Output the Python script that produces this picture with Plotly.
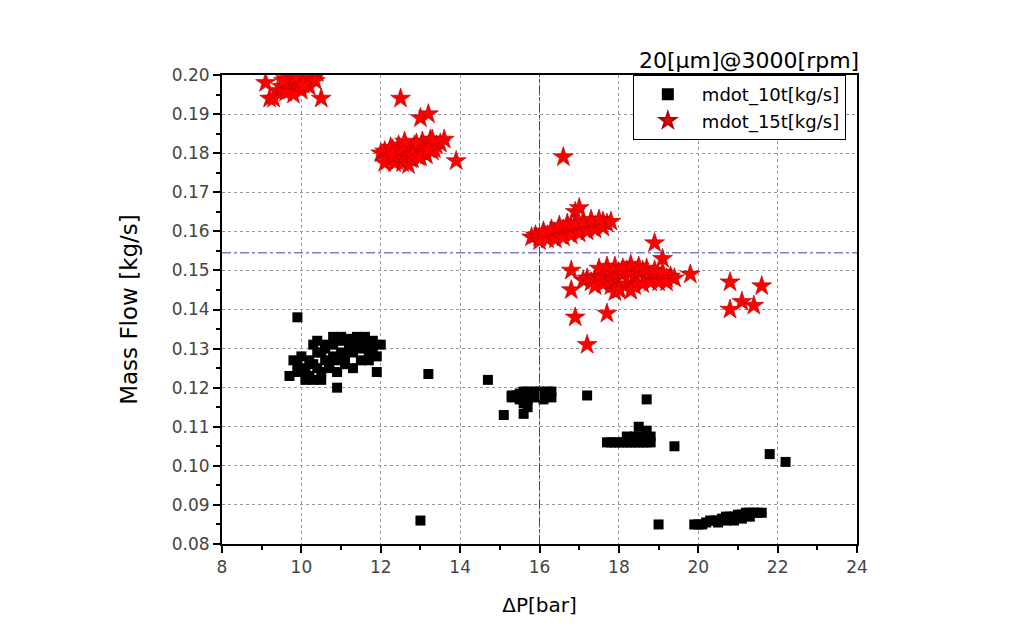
import plotly.graph_objects as go

# mdot_10t clusters (dP [bar], mass flow [kg/s])
e_x = [9.8, 9.9, 10.0, 10.1, 10.2, 10.3, 10.4, 10.5, 10.6, 10.7, 10.8, 10.9, 11.0, 11.1, 11.2, 11.3, 11.4, 11.5, 11.6, 11.7, 11.8, 11.9,
       9.9, 10.1, 10.3, 10.5, 10.7, 10.9, 11.1, 11.3, 11.5, 11.7,
       10.0, 10.2, 10.4, 10.6, 10.8, 11.0, 11.2, 11.4, 11.6, 11.8,
       10.4, 10.6, 10.8, 11.0, 11.2, 11.4, 11.6, 11.8, 12.0,
       10.9, 9.7, 11.9, 9.9, 10.3, 10.5, 13.2]
e_y = [0.127, 0.126, 0.124, 0.125, 0.123, 0.126, 0.125, 0.124, 0.127, 0.126, 0.128, 0.127, 0.129, 0.128, 0.130, 0.129, 0.131, 0.130, 0.131, 0.129, 0.130, 0.128,
       0.124, 0.122, 0.122, 0.122, 0.125, 0.124, 0.126, 0.125, 0.127, 0.127,
       0.128, 0.127, 0.129, 0.130, 0.131, 0.132, 0.131, 0.132, 0.133, 0.132,
       0.132, 0.131, 0.133, 0.133, 0.1325, 0.133, 0.1325, 0.131, 0.131,
       0.120, 0.123, 0.124, 0.138, 0.131, 0.129, 0.1235]

f_x = [15.3, 15.4, 15.5, 15.6, 15.7, 15.8, 15.9, 16.0, 16.1, 16.2, 16.3,
       15.3, 15.5, 15.7, 15.9, 16.1, 16.3, 15.6, 15.7, 15.6, 15.1, 14.7, 17.2, 18.7]
f_y = [0.118, 0.118, 0.1185, 0.119, 0.119, 0.1185, 0.119, 0.119, 0.1185, 0.119, 0.119,
       0.1175, 0.117, 0.117, 0.1175, 0.117, 0.1175, 0.116, 0.115, 0.1133, 0.113, 0.122, 0.118, 0.117]

g_x = [17.7, 17.8, 17.9, 18.0, 18.1, 18.2, 18.3, 18.4, 18.5, 18.6, 18.7, 18.8,
       18.2, 18.4, 18.6, 18.8, 18.5, 18.7, 19.4]
g_y = [0.106, 0.106, 0.106, 0.106, 0.106, 0.106, 0.106, 0.106, 0.106, 0.106, 0.106, 0.106,
       0.1075, 0.1075, 0.1075, 0.1075, 0.110, 0.109, 0.105]

h_x = [19.9, 20.0, 20.1, 20.2, 20.3, 20.4, 20.5, 20.6, 20.7, 20.8, 20.9, 21.0, 21.1, 21.2, 21.3, 21.4, 21.5, 21.6,
       20.5, 20.7, 20.9, 21.1, 21.3, 19.0, 21.8, 22.2, 13.0]
h_y = [0.085, 0.085, 0.085, 0.0855, 0.086, 0.086, 0.086, 0.0865, 0.087, 0.087, 0.087, 0.0875, 0.0875, 0.088, 0.088, 0.088, 0.088, 0.088,
       0.0855, 0.086, 0.086, 0.0865, 0.087, 0.085, 0.103, 0.101, 0.086]

# mdot_15t clusters
a_x = [9.1, 9.2, 9.3, 9.4, 9.5, 9.6, 9.7, 9.8, 9.9, 10.0, 10.1, 10.2, 10.3,
       9.7, 9.9, 10.0, 10.2, 10.4, 9.8, 10.5, 9.6, 10.1, 9.85, 10.05, 9.55, 10.35]
a_y = [0.198, 0.194, 0.194, 0.196, 0.197, 0.199, 0.196, 0.198, 0.197, 0.199, 0.198, 0.200, 0.199,
       0.200, 0.201, 0.196, 0.197, 0.2005, 0.195, 0.194, 0.1955, 0.200, 0.1995, 0.1975, 0.1985, 0.1985]

b_x = [12.0, 12.1, 12.2, 12.3, 12.4, 12.5, 12.6, 12.7, 12.8, 12.9, 13.0, 13.1, 13.2, 13.3, 13.4, 13.5,
       12.15, 12.35, 12.55, 12.75, 12.95, 13.15, 13.35, 12.25, 12.45, 12.65, 12.85, 13.05, 13.25,
       12.1, 12.3, 12.5, 12.7, 12.9, 13.1, 13.3, 12.6, 12.8, 13.0, 13.2,
       12.5, 13.0, 13.2, 13.9, 13.6]
b_y = [0.180, 0.1805, 0.179, 0.181, 0.178, 0.180, 0.1795, 0.181, 0.1785, 0.180, 0.1815, 0.181, 0.182, 0.1805, 0.182, 0.1825,
       0.1785, 0.1775, 0.1775, 0.1785, 0.179, 0.1795, 0.181, 0.1815, 0.182, 0.1815, 0.182, 0.183, 0.1835,
       0.1775, 0.1795, 0.181, 0.177, 0.1825, 0.180, 0.1835, 0.183, 0.1795, 0.179, 0.181,
       0.194, 0.189, 0.190, 0.178, 0.1835]

c_x = [15.8, 15.9, 16.0, 16.1, 16.2, 16.3, 16.4, 16.5, 16.6, 16.7, 16.8, 16.9, 17.0, 17.1, 17.2, 17.3, 17.4, 17.5, 17.6, 17.7,
       16.0, 16.2, 16.4, 16.6, 16.8, 17.0, 17.2, 17.4, 17.6,
       16.1, 16.3, 16.5, 16.7, 16.9, 17.1, 17.3, 17.5, 16.9, 17.0, 16.6, 17.8]
c_y = [0.1585, 0.159, 0.1585, 0.1595, 0.159, 0.160, 0.1595, 0.160, 0.1605, 0.160, 0.161, 0.1605, 0.161, 0.1615, 0.161, 0.162, 0.1615, 0.162, 0.1625, 0.162,
       0.1575, 0.158, 0.158, 0.1585, 0.159, 0.1595, 0.160, 0.1605, 0.161,
       0.160, 0.1605, 0.1615, 0.162, 0.162, 0.1625, 0.163, 0.163, 0.165, 0.166, 0.179, 0.1625]

d_x = [17.1, 17.2, 17.3, 17.4, 17.5, 17.6, 17.7, 17.8, 17.9, 18.0, 18.1, 18.2, 18.3, 18.4, 18.5, 18.6, 18.7, 18.8, 18.9, 19.0, 19.1, 19.2, 19.3, 19.4,
       17.4, 17.6, 17.8, 18.0, 18.2, 18.4, 18.6, 18.8, 19.0, 19.2,
       17.5, 17.7, 17.9, 18.1, 18.3, 18.5, 18.7, 18.9, 19.1,
       17.9, 18.0, 18.3,
       16.8, 16.8, 16.9, 17.7, 17.2, 18.9, 19.1, 19.8, 20.8, 20.8, 21.1, 21.4, 21.6]
d_y = [0.1475, 0.148, 0.147, 0.148, 0.1485, 0.149, 0.1485, 0.149, 0.148, 0.1495, 0.149, 0.150, 0.1495, 0.149, 0.1495, 0.150, 0.149, 0.1485, 0.149, 0.1485, 0.149, 0.148, 0.1485, 0.148,
       0.146, 0.1465, 0.146, 0.1455, 0.1465, 0.146, 0.1465, 0.147, 0.147, 0.147,
       0.1505, 0.151, 0.151, 0.1505, 0.1515, 0.151, 0.1505, 0.150, 0.1495,
       0.1445, 0.145, 0.1448,
       0.150, 0.145, 0.138, 0.139, 0.131, 0.157, 0.153, 0.149, 0.147, 0.140, 0.142, 0.141, 0.146]

x_10t = e_x + f_x + g_x + h_x
y_10t = e_y + f_y + g_y + h_y
x_15t = a_x + b_x + c_x + d_x
y_15t = a_y + b_y + c_y + d_y

ref_dp = 16
ref_mdot = 0.1545

font = "DejaVu Sans, Arial, sans-serif"

fig = go.Figure()

fig.add_trace(go.Scatter(
    x=x_10t, y=y_10t, mode="markers", name="mdot_10t[kg/s]",
    marker=dict(symbol="square", size=10, color="black", line=dict(width=0)),
))

fig.add_trace(go.Scatter(
    x=x_15t, y=y_15t, mode="markers", name="mdot_15t[kg/s]",
    marker=dict(symbol="star", size=15, color="#ff0000", line=dict(width=0.6, color="#b00000")),
))

# dash-dot reference lines
fig.add_shape(type="line", x0=ref_dp, x1=ref_dp, y0=0, y1=1, xref="x", yref="paper",
              line=dict(color="#3a3ab8", width=1, dash="dashdot"))
fig.add_shape(type="line", x0=0, x1=1, y0=ref_mdot, y1=ref_mdot, xref="paper", yref="y",
              line=dict(color="#3a3ab8", width=1, dash="dashdot"))

fig.add_annotation(
    text="20[μm]@3000[rpm]", xref="paper", yref="paper", x=1.006, y=1.03,
    xanchor="right", yanchor="middle", showarrow=False,
    font=dict(family=font, size=22, color="black"),
)

fig.update_xaxes(
    range=[8, 24], tickvals=[8, 10, 12, 14, 16, 18, 20, 22, 24],
    showline=True, linecolor="black", linewidth=2, mirror=True,
    ticks="outside", ticklen=7, tickwidth=2, tickcolor="black",
    minor=dict(dtick=1, ticks="outside", ticklen=4, tickwidth=2, tickcolor="black", showgrid=False),
    showgrid=True, gridcolor="#999999", griddash="dot", gridwidth=1,
    zeroline=False, automargin=False,
    tickfont=dict(family=font, size=17, color="#444444"),
    title=dict(text="ΔP[bar]", font=dict(family=font, size=20, color="black"), standoff=22),
)

fig.update_yaxes(
    range=[0.08, 0.20], dtick=0.01, tick0=0.08, tickformat=".2f",
    showline=True, linecolor="black", linewidth=2, mirror=True,
    ticks="outside", ticklen=7, tickwidth=2, tickcolor="black",
    minor=dict(dtick=0.005, ticks="outside", ticklen=4, tickwidth=2, tickcolor="black", showgrid=False),
    showgrid=True, gridcolor="#999999", griddash="dot", gridwidth=1,
    zeroline=False, automargin=False,
    tickfont=dict(family=font, size=17, color="#444444"),
    title=dict(text="Mass Flow [kg/s]", font=dict(family=font, size=23, color="black"), standoff=28),
)

fig.update_layout(
    width=1026, height=634,
    margin=dict(l=214, r=177, t=67, b=98),
    plot_bgcolor="white", paper_bgcolor="white",
    legend=dict(
        x=0.647, y=1.0, xanchor="left", yanchor="top",
        bordercolor="black", borderwidth=1, bgcolor="white",
        font=dict(family=font, size=18, color="black"),
        itemsizing="constant", itemwidth=58, tracegroupgap=0,
    ),
)

fig.write_html("out.html")
